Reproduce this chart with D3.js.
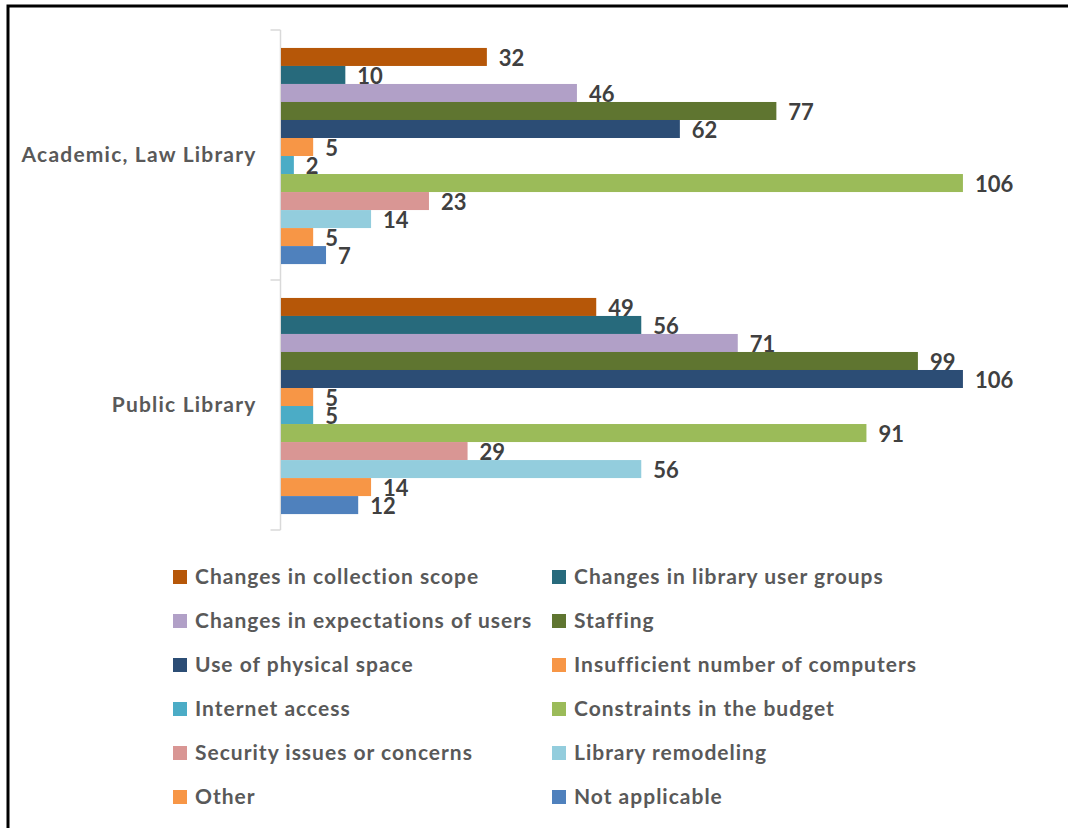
<!DOCTYPE html>
<html>
<head>
<meta charset="utf-8">
<script src="https://cdn.jsdelivr.net/npm/d3@7/dist/d3.min.js"></script>
<style>
  html, body { margin: 0; padding: 0; background: #fff; }
  svg { display: block; }
</style>
</head>
<body>
<svg id="chart" width="1068" height="828"></svg>
<script>
// Library types (categories on the vertical axis)
const categories = ["Academic, Law Library", "Public Library"];

// Reasons (series), in legend order
const seriesNames = [
  "Changes in collection scope",
  "Changes in library user groups",
  "Changes in expectations of users",
  "Staffing",
  "Use of physical space",
  "Insufficient number of computers",
  "Internet access",
  "Constraints in the budget",
  "Security issues or concerns",
  "Library remodeling",
  "Other",
  "Not applicable"
];

// Counts per series, for each category
const academicValues = [32, 10, 46, 77, 62, 5, 2, 106, 23, 14, 5, 7];
const publicValues   = [49, 56, 71, 99, 106, 5, 5, 91, 29, 56, 14, 12];

const seriesColors = [
  "#B65708", "#276A7C", "#B1A0C7", "#5F7530", "#2C4D75", "#F79646",
  "#4BACC6", "#9BBB59", "#D99694", "#93CDDD", "#F79646", "#4F81BD"
];

const valuesByCategory = {
  "Academic, Law Library": academicValues,
  "Public Library": publicValues
};

const svg = d3.select("#chart");
const fontFamily = "Lato, 'Open Sans', sans-serif";

svg.append("rect").attr("width", 1068).attr("height", 828).attr("fill", "#fff");

// outer frame
svg.append("rect")
  .attr("x", 8).attr("y", 6)
  .attr("width", 1200).attr("height", 1000)
  .attr("fill", "none")
  .attr("stroke", "#000")
  .attr("stroke-width", 3);

// scales
const x = d3.scaleLinear().domain([0, 120]).range([281, 1053]);
const y0 = d3.scaleBand().domain(categories).range([30, 530]);
const y1 = d3.scaleBand().domain(seriesNames).range([0, y0.bandwidth()])
  .paddingOuter(0.94).align(0.53);
const color = d3.scaleOrdinal().domain(seriesNames).range(seriesColors);

// category axis
const axis = svg.append("g")
  .attr("transform", `translate(${x(0) - 0.5},0)`)
  .call(d3.axisLeft(y0).tickSize(0).tickPadding(24));
axis.select(".domain").attr("stroke", "#D9D9D9").attr("stroke-width", 1.5);
axis.selectAll(".tick text")
  .attr("font-family", fontFamily)
  .attr("font-weight", "bold")
  .attr("font-size", 21)
  .attr("letter-spacing", "1.2px")
  .attr("fill", "#595959")
  .attr("dy", "0.32em");
axis.select(".domain").attr("d", `M0,${y0.range()[0]}V${y0.range()[1]}`);

// tick marks on band boundaries
const boundaries = [y0.range()[0], ...categories.map(c => y0(c) + y0.bandwidth())];
axis.selectAll(".boundary").data(boundaries).join("line")
  .attr("class", "boundary")
  .attr("x1", -10).attr("x2", 0)
  .attr("y1", d => d).attr("y2", d => d)
  .attr("stroke", "#D9D9D9").attr("stroke-width", 1.5);

// bars
const rows = categories.flatMap(cat =>
  seriesNames.map((s, i) => ({ cat, series: s, value: valuesByCategory[cat][i] }))
);

const groups = svg.append("g");
groups.selectAll("rect").data(rows).join("rect")
  .attr("x", x(0))
  .attr("y", d => y0(d.cat) + y1(d.series))
  .attr("width", d => x(d.value) - x(0))
  .attr("height", y1.bandwidth())
  .attr("fill", d => color(d.series));

// value labels
groups.selectAll("text").data(rows).join("text")
  .attr("x", d => x(d.value) + 12)
  .attr("y", d => y0(d.cat) + y1(d.series) + y1.bandwidth() / 2 + 1)
  .attr("dy", "0.36em")
  .attr("font-family", fontFamily)
  .attr("font-weight", "bold")
  .attr("font-size", 22)
  .attr("fill", "#404040")
  .text(d => d.value);

// legend: two columns
const legend = svg.append("g");
const colX = [173, 552];
const rowY = d3.range(6).map(i => 577 + i * 44);
const items = legend.selectAll("g").data(seriesNames).join("g")
  .attr("transform", (d, i) => `translate(${colX[i % 2]},${rowY[Math.floor(i / 2)]})`);
items.append("rect")
  .attr("x", 0).attr("y", -7)
  .attr("width", 14).attr("height", 14)
  .attr("fill", d => color(d));
items.append("text")
  .attr("x", 22).attr("y", 0)
  .attr("dy", "0.35em")
  .attr("font-family", fontFamily)
  .attr("font-weight", "bold")
  .attr("font-size", 21)
  .attr("letter-spacing", "1px")
  .attr("fill", "#595959")
  .text(d => d);
</script>
</body>
</html>
